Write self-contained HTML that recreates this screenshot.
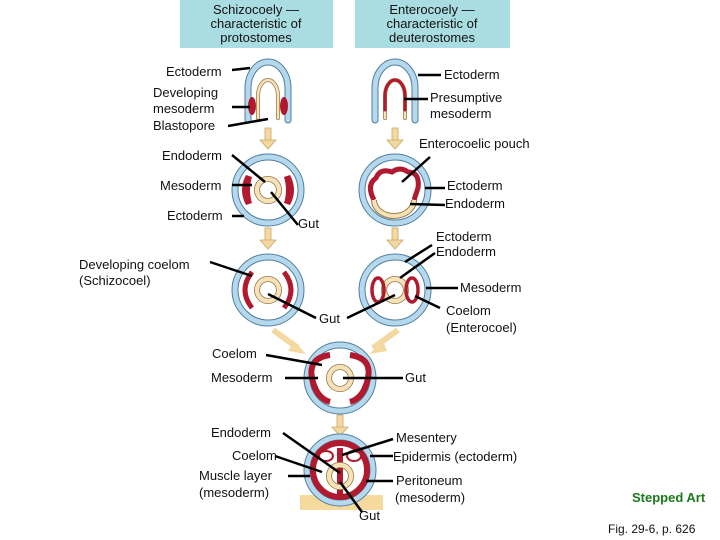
<!DOCTYPE html>
<html><head><style>
body{margin:0;background:#fff;}
svg{display:block;font-family:"Liberation Sans",Arial,sans-serif;font-size:13px;}
</style></head><body>
<svg width="720" height="540" viewBox="0 0 720 540">
<defs>
<g id="ring"><circle r="33" fill="#fff" stroke="#4f7fa0" stroke-width="7"/><circle r="33" fill="none" stroke="#b6d8ec" stroke-width="5"/></g>
<g id="gut"><circle r="11" fill="none" stroke="#9a7a48" stroke-width="6"/><circle r="11" fill="none" stroke="#f5e2b8" stroke-width="4.4"/></g>
<g id="arr"><rect x="-3" y="0" width="6" height="13" fill="#f3d9a0" stroke="#c9a76a" stroke-width="0.8"/><path d="M-8 12 L8 12 L0 21 Z" fill="#f3d9a0" stroke="#c9a76a" stroke-width="0.8"/></g>
</defs>
<rect x="180" y="0" width="153" height="48" fill="#a9dde2"/>
<rect x="355" y="0" width="155" height="48" fill="#a9dde2"/>
<g text-anchor="middle" fill="#111">
<text x="256" y="14">Schizocoely —</text><text x="256" y="28">characteristic of</text><text x="256" y="42">protostomes</text>
<text x="432" y="14">Enterocoely —</text><text x="432" y="28">characteristic of</text><text x="432" y="42">deuterostomes</text>
</g>
<g fill="none" stroke-linecap="round">
<path d="M248 120 V88 A20 26 0 0 1 288 88 V120" stroke="#4f7fa0" stroke-width="7"/>
<path d="M248 120 V88 A20 26 0 0 1 288 88 V120" stroke="#b6d8ec" stroke-width="5"/>
<path d="M258 118 V96 A10 16 0 0 1 278 96 V118" stroke="#9a7a48" stroke-width="4"/>
<path d="M258 118 V96 A10 16 0 0 1 278 96 V118" stroke="#f5e2b8" stroke-width="2.5"/>
<path d="M375 120 V88 A20 26 0 0 1 415 88 V120" stroke="#4f7fa0" stroke-width="7"/>
<path d="M375 120 V88 A20 26 0 0 1 415 88 V120" stroke="#b6d8ec" stroke-width="5"/>
<path d="M385 118 V96 A10 16 0 0 1 405 96 V118" stroke="#9a7a48" stroke-width="4"/>
<path d="M385 118 V96 A10 16 0 0 1 405 96 V118" stroke="#f5e2b8" stroke-width="2.5"/>
<path d="M385 110 V96 A10 16 0 0 1 405 96 V110" stroke="#b0192e" stroke-width="3"/>
</g>
<ellipse cx="252" cy="106" rx="4" ry="9" fill="#b0192e"/><ellipse cx="284" cy="106" rx="4" ry="9" fill="#b0192e"/>
<use href="#arr" x="268" y="128"/><use href="#arr" x="395" y="128"/>
<use href="#ring" x="268" y="190"/><use href="#gut" x="268" y="190"/>
<path d="M246 175 Q238 190 246 205 L252 203 Q248 190 252 177Z" fill="#b0192e"/>
<path d="M290 175 Q298 190 290 205 L284 203 Q288 190 284 177Z" fill="#b0192e"/>
<use href="#ring" x="395" y="190"/>
<path d="M374 200 Q366 185 376 178 Q380 168 392 172 Q400 166 408 172 Q420 172 418 188 L414 200" fill="none" stroke="#b0192e" stroke-width="5"/>
<path d="M374 200 A20 16 0 0 0 414 200" fill="none" stroke="#9a7a48" stroke-width="6"/>
<path d="M374 200 A20 16 0 0 0 414 200" fill="none" stroke="#f5e2b8" stroke-width="4"/>
<use href="#arr" x="268" y="228"/><use href="#arr" x="395" y="228"/>
<use href="#ring" x="268" y="290"/><use href="#gut" x="268" y="290"/>
<path d="M252 272 Q238 290 252 308" fill="none" stroke="#b0192e" stroke-width="5"/>
<path d="M284 272 Q298 290 284 308" fill="none" stroke="#b0192e" stroke-width="5"/>
<use href="#ring" x="395" y="290"/><use href="#gut" x="395" y="290"/>
<ellipse cx="378" cy="290" rx="6" ry="12" fill="none" stroke="#b0192e" stroke-width="3.5"/>
<ellipse cx="412" cy="290" rx="6" ry="12" fill="none" stroke="#b0192e" stroke-width="3.5"/>
<path d="M273 330 L298 348" stroke="#f3d9a0" stroke-width="6"/><path d="M294 341 L306 354 L288 351Z" fill="#f3d9a0"/>
<path d="M398 330 L373 348" stroke="#f3d9a0" stroke-width="6"/><path d="M383 341 L369 354 L387 351Z" fill="#f3d9a0"/>
<use href="#ring" x="340" y="378"/><use href="#gut" x="340" y="378"/>
<path d="M330 355 Q308 358 312 378 Q316 398 330 402" fill="none" stroke="#b0192e" stroke-width="6"/>
<path d="M350 355 Q372 358 368 378 Q364 398 350 402" fill="none" stroke="#b0192e" stroke-width="6"/>
<use href="#arr" x="340" y="415"/>
<rect x="300" y="495" width="83" height="15" fill="#f6d99c"/>
<use href="#ring" x="340" y="470"/>
<circle cx="340" cy="470" r="27" fill="none" stroke="#b0192e" stroke-width="6"/>
<path d="M340 448 V497" stroke="#b0192e" stroke-width="6"/>
<ellipse cx="326" cy="456" rx="7" ry="5" fill="#fff" stroke="#b0192e" stroke-width="2"/>
<ellipse cx="354" cy="456" rx="7" ry="5" fill="#fff" stroke="#b0192e" stroke-width="2"/>
<use href="#gut" x="340" y="476"/>
<g stroke="#000" stroke-width="2.5" fill="none">
<path d="M232 70 L250 68"/><path d="M232 107 L250 107"/><path d="M228 126 L268 119"/>
<path d="M441 75 L418 75"/><path d="M428 99 L404 99"/>
<path d="M430 157 L402 182"/><path d="M445 188 L425 188"/><path d="M445 205 L410 204"/>
<path d="M232 155 L265 182"/><path d="M232 185 L252 185"/><path d="M232 216 L244 216"/><path d="M298 225 L271 192"/>
<path d="M432 245 L405 262"/><path d="M435 253 L400 278"/><path d="M458 288 L426 288"/><path d="M440 308 L415 296"/>
<path d="M210 262 L252 276"/><path d="M316 318 L268 294"/><path d="M347 318 L395 295"/>
<path d="M266 355 L322 365"/><path d="M285 378 L318 378"/><path d="M343 378 L403 378"/>
<path d="M283 433 L340 473"/><path d="M275 456 L322 472"/><path d="M288 476 L310 476"/>
<path d="M393 439 L342 455"/><path d="M393 456 L370 456"/><path d="M393 481 L366 481"/><path d="M362 512 L340 482"/>
</g>
<g fill="#111">
<text x="166" y="76">Ectoderm</text>
<text x="153" y="97">Developing</text><text x="153" y="113">mesoderm</text><text x="153" y="130">Blastopore</text>
<text x="444" y="79">Ectoderm</text>
<text x="430" y="102">Presumptive</text><text x="430" y="118">mesoderm</text>
<text x="419" y="148">Enterocoelic pouch</text>
<text x="162" y="160">Endoderm</text><text x="160" y="190">Mesoderm</text><text x="167" y="220">Ectoderm</text>
<text x="298" y="228">Gut</text>
<text x="447" y="190">Ectoderm</text><text x="445" y="208">Endoderm</text>
<text x="436" y="241">Ectoderm</text><text x="436" y="256">Endoderm</text>
<text x="79" y="269">Developing coelom</text><text x="79" y="285">(Schizocoel)</text>
<text x="460" y="292">Mesoderm</text>
<text x="446" y="315">Coelom</text><text x="446" y="332">(Enterocoel)</text>
<text x="319" y="323">Gut</text>
<text x="212" y="358">Coelom</text><text x="211" y="382">Mesoderm</text><text x="405" y="382">Gut</text>
<text x="211" y="437">Endoderm</text><text x="232" y="460">Coelom</text>
<text x="199" y="480">Muscle layer</text><text x="199" y="497">(mesoderm)</text>
<text x="396" y="442">Mesentery</text><text x="393" y="461">Epidermis (ectoderm)</text>
<text x="396" y="485">Peritoneum</text><text x="395" y="502">(mesoderm)</text>
<text x="359" y="520">Gut</text>
<text x="632" y="502" fill="#1a7a1a" font-weight="bold">Stepped Art</text>
<text x="608" y="533" font-size="12">Fig. 29-6, p. 626</text>
</g>
</svg>
</body></html>
